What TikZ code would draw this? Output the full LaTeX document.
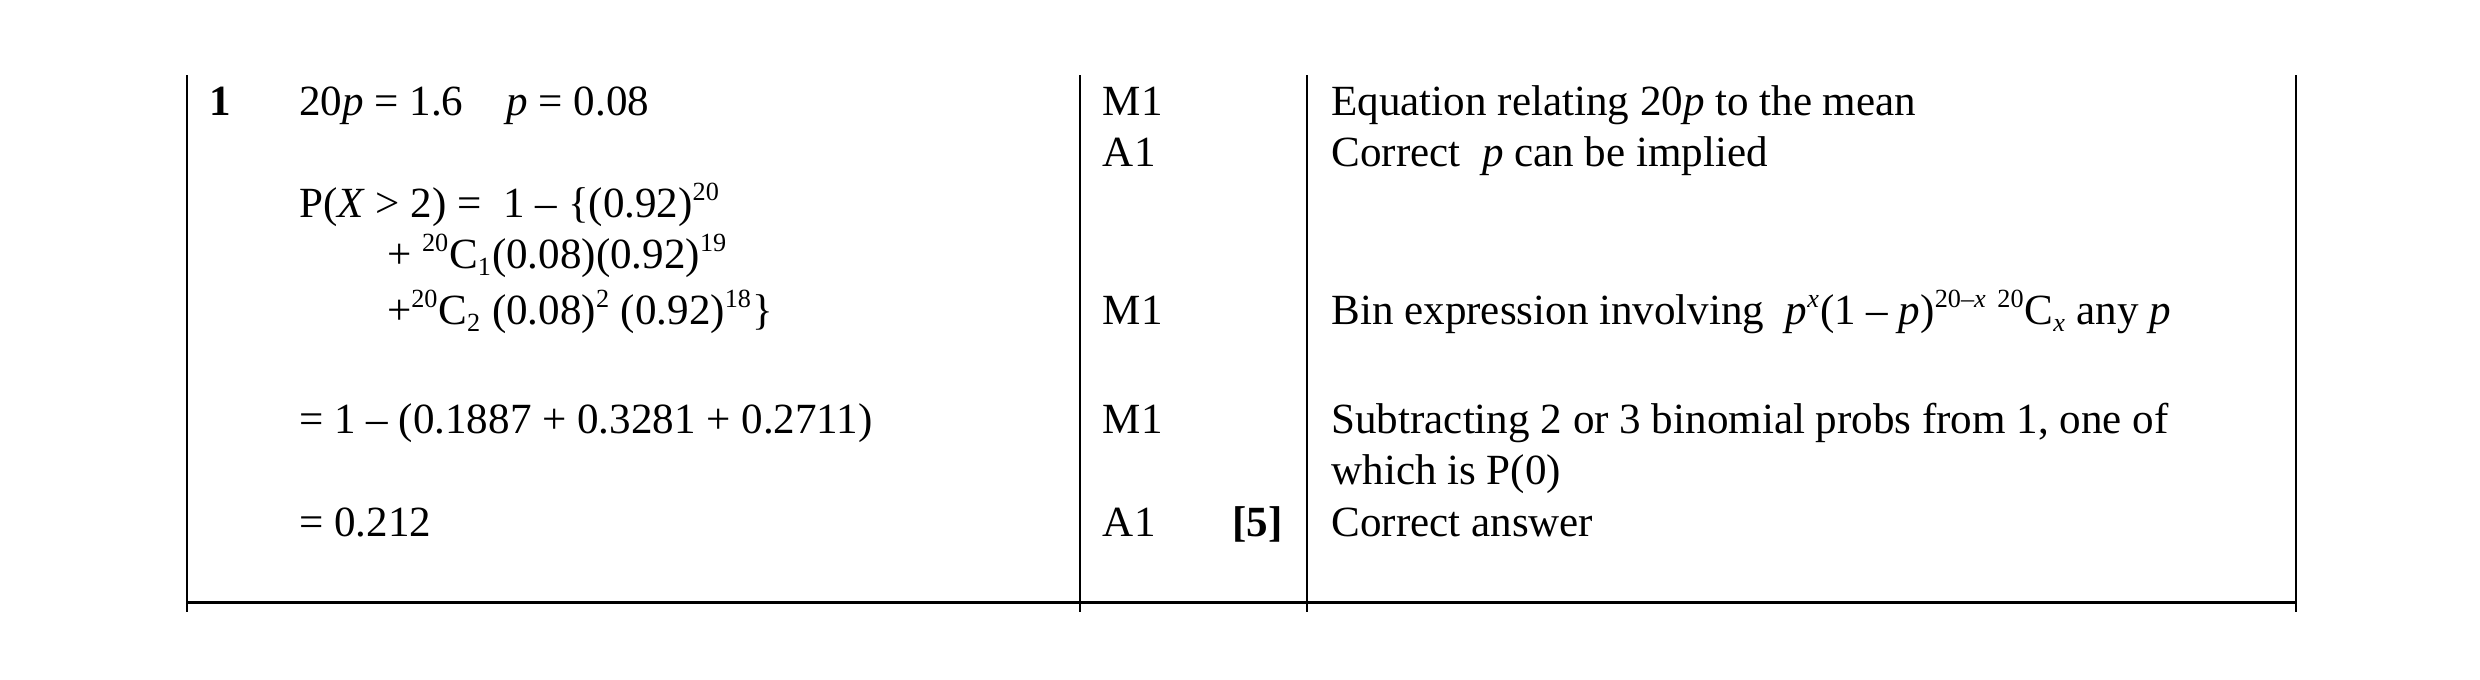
\documentclass[tikz,border=0pt]{standalone}
\usepackage{fontspec}
\setmainfont{Liberation Serif}
\begin{document}
\begin{tikzpicture}[x=0.3mm,y=-0.3mm,
  t/.style={anchor=base west,inner sep=0pt,font=\fontsize{23}{26}\selectfont},
  rl/.style={line width=0.45mm}]
\useasboundingbox (0,0) rectangle (1552,425);
\draw[rl] (117,47) -- (117,383);
\draw[rl] (676,47) -- (676,383);
\draw[rl] (818,47) -- (818,383);
\draw[rl] (1437,47) -- (1437,383);
\draw[rl] (117,377) -- (1437,377);
\node[t] (n1) at (131,72) {\textbf{1}};
\node[t] (a1) at (187,72) {20\textit{p} = 1.6\quad \textit{p} = 0.08};
\node[t] (a2) at (187,136) {P(\textit{X} > 2) =\ \ 1 – \{(0.92)$^{\mbox{\fontsize{14}{14}\selectfont 20}}$};
\node[t] (a3) at (242,168) {+ $^{\mbox{\fontsize{14}{14}\selectfont 20}}$C$_{\mbox{\fontsize{14}{14}\selectfont 1}}$(0.08)(0.92)$^{\mbox{\fontsize{14}{14}\selectfont 19}}$};
\node[t] (a4) at (242,203) {+$^{\mbox{\fontsize{14}{14}\selectfont 20}}$C$_{\mbox{\fontsize{14}{14}\selectfont 2}}$ (0.08)$^{\mbox{\fontsize{14}{14}\selectfont 2}}$ (0.92)$^{\mbox{\fontsize{14}{14}\selectfont 18}}$\}};
\node[t] (a5) at (187,271) {= 1 – (0.1887 + 0.3281 + 0.2711)};
\node[t] (a6) at (187,336) {= 0.212};
\node[t] (m1) at (690,72) {M1};
\node[t] (m2) at (690,104) {A1};
\node[t] (m3) at (690,203) {M1};
\node[t] (m4) at (690,271) {M1};
\node[t] (m5) at (690,336) {A1};
\node[t] (mk) at (771,336) {\textbf{[5]}};
\node[t] (c1) at (833,72) {Equation relating 20\textit{p} to the mean};
\node[t] (c2) at (833,104) {Correct\ \ \textit{p} can be implied};
\node[t] (c3) at (833,203) {Bin expression involving\ \ \textit{p}$^{\mbox{\fontsize{14}{14}\selectfont\itshape x}}$(1 – \textit{p})$^{\mbox{\fontsize{14}{14}\selectfont 20–\itshape x}}$ $^{\mbox{\fontsize{14}{14}\selectfont 20}}$C$_{\mbox{\fontsize{14}{14}\selectfont\itshape x}}$ any \textit{p}};
\node[t] (c4) at (833,271) {Subtracting 2 or 3 binomial probs from 1, one of};
\node[t] (c5) at (833,303) {which is P(0)};
\node[t] (c6) at (833,336) {Correct answer};
\end{tikzpicture}
\end{document}
